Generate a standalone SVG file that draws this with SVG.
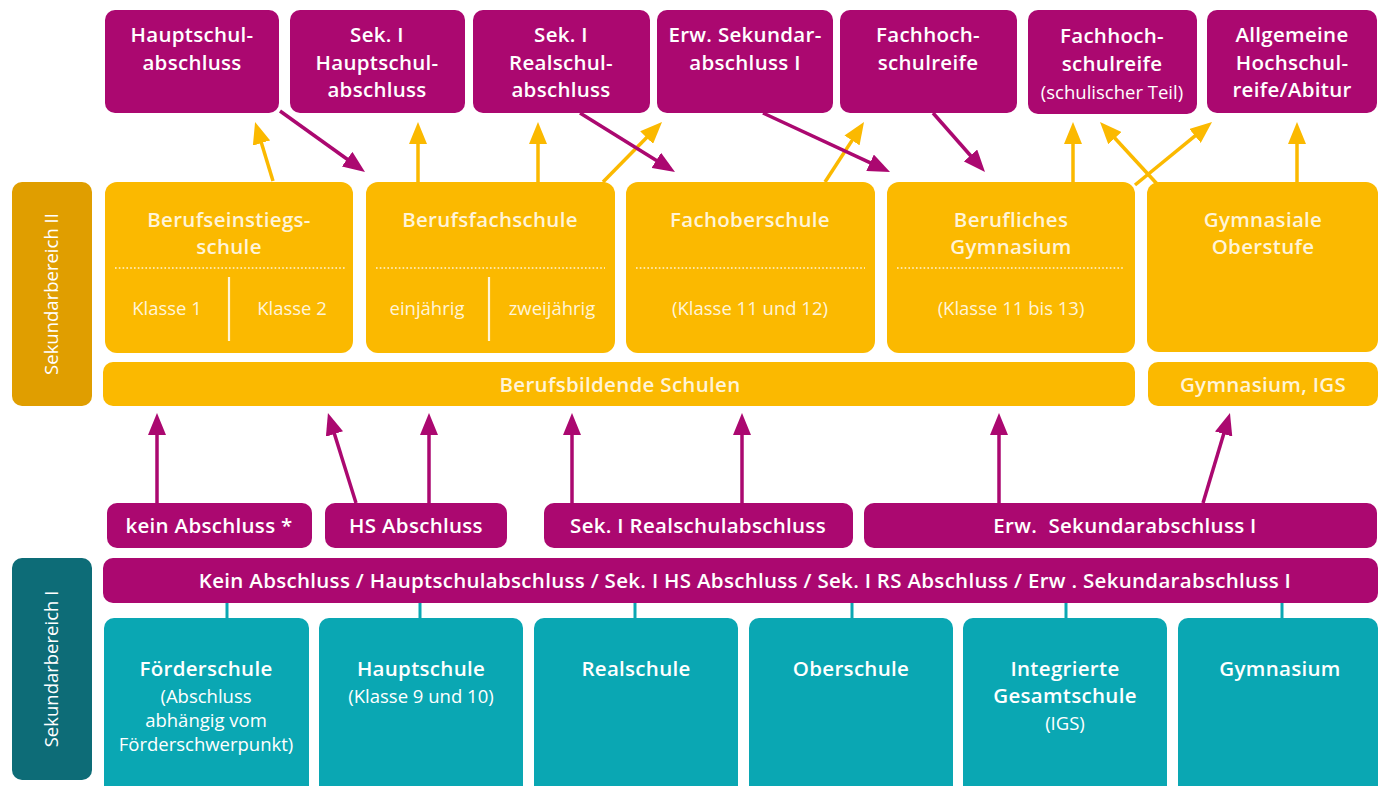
<svg xmlns="http://www.w3.org/2000/svg" width="1379" height="786" viewBox="0 0 1379 786">
<style>
.mag{fill:#ab0870}
.yel{fill:#fbb900}
.gold{fill:#e09e00}
.teal{fill:#0aa7b3}
.dteal{fill:#0d6c77}
text{font-family:"Open Sans","Liberation Sans",sans-serif;text-anchor:middle;fill:#ffffff}
.b{font-weight:600;font-size:20.5px;letter-spacing:0.3px}
.s{font-size:18.5px}
.cr{fill:#fff4d8}
.lbl{font-size:18.5px}
.dot{stroke:#fff4d8;stroke-width:1.6;stroke-dasharray:1.6 2.2;fill:none}
.div{stroke:#fff4d8;stroke-width:2.2}
.am{stroke:#ab0870;stroke-width:3.5;fill:none;marker-end:url(#hm)}
.ay{stroke:#fbb900;stroke-width:3.5;fill:none;marker-end:url(#hy)}
.tc{stroke:#0aa7b3;stroke-width:3;fill:none}
</style>
<defs>
<marker id="hm" viewBox="0 0 22 18" markerWidth="22" markerHeight="18" refX="4" refY="9" orient="auto" markerUnits="userSpaceOnUse"><path d="M0,0 L22,9 L0,18 z" fill="#ab0870"/></marker>
<marker id="hy" viewBox="0 0 22 18" markerWidth="22" markerHeight="18" refX="4" refY="9" orient="auto" markerUnits="userSpaceOnUse"><path d="M0,0 L22,9 L0,18 z" fill="#fbb900"/></marker>
</defs>
<rect width="1379" height="786" fill="#ffffff"/>

<!-- Side labels -->
<g id="sek2-label">
<rect class="gold" x="12" y="182" width="80" height="224" rx="10"/>
<text class="lbl" transform="translate(58,294) rotate(-90)">Sekundarbereich II</text>
</g>
<g id="sek1-label">
<rect class="dteal" x="12" y="558" width="80" height="222" rx="10"/>
<text class="lbl" transform="translate(58,669) rotate(-90)">Sekundarbereich I</text>
</g>

<!-- Top: qualifications -->
<g id="q-hsa"><rect class="mag" x="105" y="10" width="174" height="103" rx="10"/>
<text class="b" x="192" y="42">Hauptschul-</text><text class="b" x="192" y="70">abschluss</text></g>
<g id="q-sek1hs"><rect class="mag" x="290" y="10" width="175" height="103" rx="10"/>
<text class="b" x="377" y="42">Sek. I</text><text class="b" x="377" y="70">Hauptschul-</text><text class="b" x="377" y="97">abschluss</text></g>
<g id="q-sek1rs"><rect class="mag" x="473" y="10" width="177" height="103" rx="10"/>
<text class="b" x="561" y="42">Sek. I</text><text class="b" x="561" y="70">Realschul-</text><text class="b" x="561" y="97">abschluss</text></g>
<g id="q-erw"><rect class="mag" x="657" y="10" width="176" height="103" rx="10"/>
<text class="b" x="745" y="42">Erw. Sekundar-</text><text class="b" x="745" y="70">abschluss I</text></g>
<g id="q-fhr"><rect class="mag" x="840" y="10" width="177" height="103" rx="10"/>
<text class="b" x="928" y="42">Fachhoch-</text><text class="b" x="928" y="70">schulreife</text></g>
<g id="q-fhr-s"><rect class="mag" x="1028" y="10" width="169" height="104" rx="10"/>
<text class="b" x="1112" y="43">Fachhoch-</text><text class="b" x="1112" y="71">schulreife</text><text class="s" x="1112" y="99">(schulischer Teil)</text></g>
<g id="q-abi"><rect class="mag" x="1207" y="10" width="170" height="103" rx="10"/>
<text class="b" x="1292" y="42">Allgemeine</text><text class="b" x="1292" y="70">Hochschul-</text><text class="b" x="1292" y="97">reife/Abitur</text></g>

<!-- Sekundarbereich II schools -->
<g id="s-bes"><rect class="yel" x="105" y="182" width="248" height="171" rx="12"/>
<text class="b cr" x="229" y="227">Berufseinstiegs-</text><text class="b cr" x="229" y="254">schule</text>
<line class="dot" x1="115" y1="268" x2="345" y2="268"/>
<line class="div" x1="229" y1="277" x2="229" y2="341"/>
<text class="s cr" x="167" y="315">Klasse 1</text><text class="s cr" x="292" y="315">Klasse 2</text></g>
<g id="s-bfs"><rect class="yel" x="366" y="182" width="249" height="171" rx="12"/>
<text class="b cr" x="490" y="227">Berufsfachschule</text>
<line class="dot" x1="376" y1="268" x2="605" y2="268"/>
<line class="div" x1="489" y1="277" x2="489" y2="341"/>
<text class="s cr" x="427" y="315">einjährig</text><text class="s cr" x="552" y="315">zweijährig</text></g>
<g id="s-fos"><rect class="yel" x="626" y="182" width="249" height="171" rx="12"/>
<text class="b cr" x="750" y="227">Fachoberschule</text>
<line class="dot" x1="636" y1="268" x2="865" y2="268"/>
<text class="s cr" x="750" y="315">(Klasse 11 und 12)</text></g>
<g id="s-bg"><rect class="yel" x="887" y="182" width="248" height="171" rx="12"/>
<text class="b cr" x="1011" y="227">Berufliches</text><text class="b cr" x="1011" y="254">Gymnasium</text>
<line class="dot" x1="897" y1="268" x2="1125" y2="268"/>
<text class="s cr" x="1011" y="315">(Klasse 11 bis 13)</text></g>
<g id="s-go"><rect class="yel" x="1147" y="182" width="231" height="170" rx="12"/>
<text class="b cr" x="1263" y="227">Gymnasiale</text><text class="b cr" x="1263" y="254">Oberstufe</text></g>
<g id="bbs"><rect class="yel" x="103" y="362" width="1032" height="44" rx="10"/>
<text class="b cr" x="620" y="392">Berufsbildende Schulen</text></g>
<g id="gym-igs"><rect class="yel" x="1148" y="362" width="230" height="44" rx="10"/>
<text class="b cr" x="1263" y="392">Gymnasium, IGS</text></g>

<!-- Sekundarbereich I outcomes -->
<g id="o-kein"><rect class="mag" x="107" y="503" width="205" height="45" rx="10"/>
<text class="b" x="209" y="533">kein Abschluss *</text></g>
<g id="o-hs"><rect class="mag" x="325" y="503" width="182" height="45" rx="10"/>
<text class="b" x="416" y="533">HS Abschluss</text></g>
<g id="o-rs"><rect class="mag" x="544" y="503" width="309" height="45" rx="10"/>
<text class="b" x="698" y="533">Sek. I Realschulabschluss</text></g>
<g id="o-erw"><rect class="mag" x="864" y="503" width="513" height="45" rx="10"/>
<text class="b" x="1125" y="533" xml:space="preserve">Erw.  Sekundarabschluss I</text></g>
<g id="o-bar"><rect class="mag" x="103" y="558" width="1275" height="45" rx="10"/>
<text class="b" x="745" y="588">Kein Abschluss / Hauptschulabschluss / Sek. I HS Abschluss / Sek. I RS Abschluss / Erw . Sekundarabschluss I</text></g>

<!-- Sekundarbereich I schools -->
<g id="f-foe"><rect class="teal" x="104" y="618" width="205" height="180" rx="10"/>
<text class="b" x="206" y="676">Förderschule</text><text class="s" x="206" y="703">(Abschluss</text><text class="s" x="206" y="727">abhängig vom</text><text class="s" x="206" y="751">Förderschwerpunkt)</text></g>
<g id="f-hs"><rect class="teal" x="319" y="618" width="204" height="180" rx="10"/>
<text class="b" x="421" y="676">Hauptschule</text><text class="s" x="421" y="703">(Klasse 9 und 10)</text></g>
<g id="f-rs"><rect class="teal" x="534" y="618" width="204" height="180" rx="10"/>
<text class="b" x="636" y="676">Realschule</text></g>
<g id="f-obs"><rect class="teal" x="749" y="618" width="204" height="180" rx="10"/>
<text class="b" x="851" y="676">Oberschule</text></g>
<g id="f-igs"><rect class="teal" x="963" y="618" width="204" height="180" rx="10"/>
<text class="b" x="1065" y="676">Integrierte</text><text class="b" x="1065" y="703">Gesamtschule</text><text class="s" x="1065" y="730">(IGS)</text></g>
<g id="f-gym"><rect class="teal" x="1178" y="618" width="200" height="180" rx="10"/>
<text class="b" x="1280" y="676">Gymnasium</text></g>

<!-- Connectors -->
<g id="connectors">
<line class="ay" x1="273" y1="181" x2="260.3" y2="139.2"/>
<line class="ay" x1="418" y1="182" x2="418" y2="140"/>
<line class="ay" x1="538" y1="182" x2="538" y2="140"/>
<line class="ay" x1="603" y1="182" x2="649.4" y2="134.8"/>
<line class="ay" x1="825" y1="182" x2="854.2" y2="137.1"/>
<line class="ay" x1="1073" y1="182" x2="1073" y2="140"/>
<line class="ay" x1="1135" y1="185" x2="1198.1" y2="133.4"/>
<line class="ay" x1="1158" y1="185" x2="1112.2" y2="135.2"/>
<line class="ay" x1="1297" y1="182" x2="1297" y2="140"/>
<line class="am" x1="280" y1="111" x2="350.4" y2="161.5"/>
<line class="am" x1="580" y1="113" x2="659.7" y2="162.5"/>
<line class="am" x1="763" y1="113" x2="873.7" y2="164.4"/>
<line class="am" x1="933" y1="113" x2="973.1" y2="158.5"/>
<line class="am" x1="157" y1="503" x2="157" y2="431"/>
<line class="am" x1="356" y1="503" x2="333.3" y2="430.2"/>
<line class="am" x1="429" y1="503" x2="429" y2="431"/>
<line class="am" x1="572" y1="503" x2="572" y2="431"/>
<line class="am" x1="742" y1="503" x2="742" y2="431"/>
<line class="am" x1="999" y1="503" x2="999" y2="431"/>
<line class="am" x1="1203" y1="503" x2="1224.8" y2="430.2"/>
<line class="tc" x1="227" y1="603" x2="227" y2="618"/>
<line class="tc" x1="420" y1="603" x2="420" y2="618"/>
<line class="tc" x1="635" y1="603" x2="635" y2="618"/>
<line class="tc" x1="852" y1="603" x2="852" y2="618"/>
<line class="tc" x1="1066" y1="603" x2="1066" y2="618"/>
<line class="tc" x1="1282" y1="603" x2="1282" y2="618"/>
</g>
</svg>
